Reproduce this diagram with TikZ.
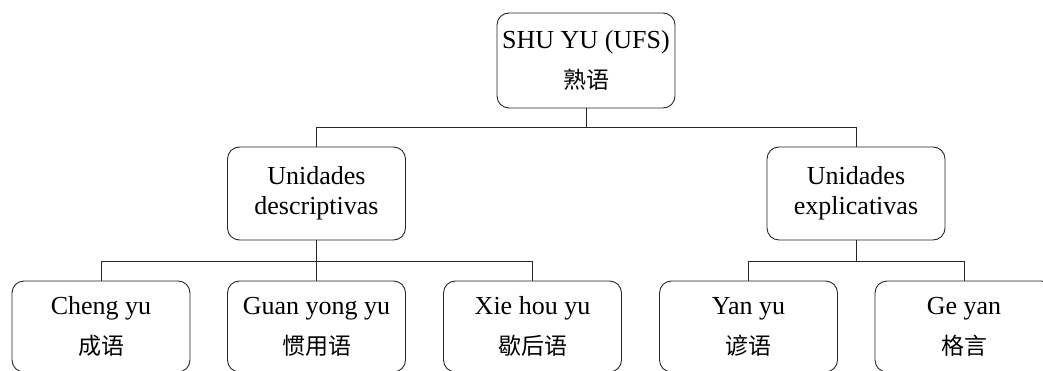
\documentclass[tikz,border=0pt]{standalone}
\usepackage{fontspec}
\setmainfont{Liberation Serif}
\newfontfamily\cjk{Noto Sans CJK SC}
\newcommand{\zh}[1]{{\fontsize{23}{28}\cjk #1}}
\begin{document}
\begin{tikzpicture}[x=1pt,y=-1pt,
  box/.style={draw=black!85, line width=0.9pt, rounded corners=12pt,
    minimum width=178pt, minimum height=93pt, inner sep=0pt,
    align=center, font=\fontsize{26}{30}\selectfont},
  link/.style={draw=black!85, line width=0.9pt}]
\useasboundingbox (0,0) rectangle (1043,371);
\clip (0,0) rectangle (1043,371);
\node[box, minimum height=95pt] (top) at (586,60.5) {SHU YU (UFS)\\[10pt]\zh{熟语}};
\node[box] (desc) at (316.5,193.5) {Unidades\\descriptivas};
\node[box] (expl) at (856,193.5) {Unidades\\explicativas};
\node[box, minimum height=91pt] (cheng) at (101,326.5) {Cheng yu\\[10pt]\zh{成语}};
\node[box, minimum height=91pt] (guan) at (316.5,326.5) {Guan yong yu\\[10pt]\zh{惯用语}};
\node[box, minimum height=91pt] (xie) at (532.5,326.5) {Xie hou yu\\[10pt]\zh{歇后语}};
\node[box, minimum height=91pt] (yan) at (748.5,326.5) {Yan yu\\[10pt]\zh{谚语}};
\node[box, minimum height=91pt] (ge) at (964,326.5) {Ge yan\\[10pt]\zh{格言}};
\coordinate (j1) at (586,127.5);
\coordinate (j2) at (316.5,261.5);
\coordinate (j3) at (856,261.5);
\draw[link] (top.south) -- (j1);
\draw[link] (desc.north) |- (j1) -| (expl.north);
\draw[link] (desc.south) -- (guan.north);
\draw[link] (cheng.north) |- (j2) -| (xie.north);
\draw[link] (expl.south) -- (j3);
\draw[link] (yan.north) |- (j3) -| (ge.north);
\end{tikzpicture}
\end{document}
